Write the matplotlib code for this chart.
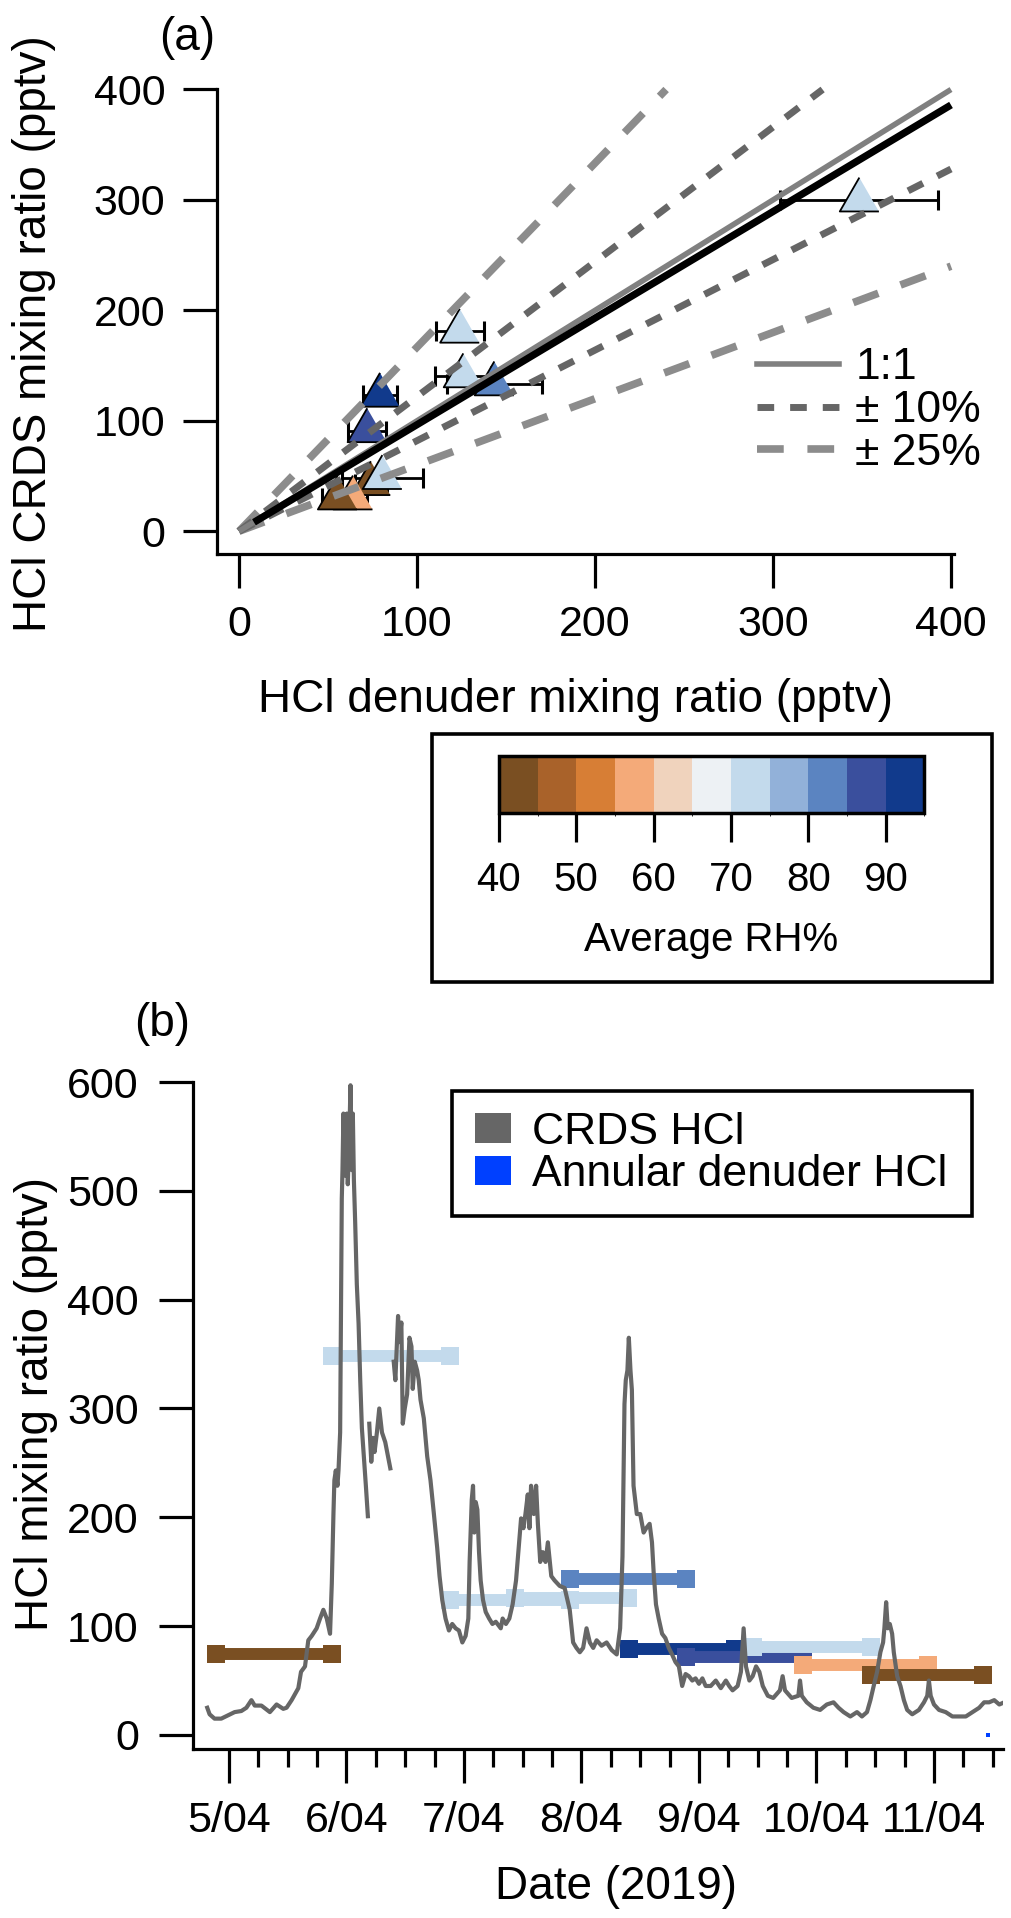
import numpy as np
import matplotlib
matplotlib.use('Agg')
import matplotlib.pyplot as plt
from matplotlib.colors import ListedColormap, BoundaryNorm
from matplotlib.patches import Patch, Rectangle
from matplotlib.lines import Line2D
from matplotlib.ticker import FixedLocator
import matplotlib.cm as cm

plt.rcParams['font.family'] = ['Liberation Sans', 'DejaVu Sans']

# ---- RH colour scale ----
rh_bounds = [40, 45, 50, 55, 60, 65, 70, 75, 80, 85, 90, 95]
rh_colors = ['#7a4f22', '#a9622a', '#d77e35', '#f4aa79', '#f0d3bd', '#edf1f4',
             '#c3daec', '#92b1d9', '#5b84c1', '#3a4f9d', '#113a8c']
rh_ticks = [40, 50, 60, 70, 80, 90]

# ---- denuder samples (day of April 2019) ----
samp_start = [4.889, 5.877, 6.877, 7.430, 7.903, 8.403, 8.886, 9.457, 9.886, 10.460]
samp_end   = [5.880, 6.877, 7.903, 8.400, 8.889, 9.310, 9.886, 10.460, 10.950, 11.420]
denuder    = [74.0, 348.5, 124.0, 126.0, 143.4, 79.2, 72.0, 80.5, 64.0, 55.3]
denuder_err = [9.0, 44.4, 13.4, 15.7, 26.6, 9.5, 10.6, 22.7, 8.0, 8.5]
crds_mean  = [43.0, 299.8, 181.0, 140.6, 133.3, 123.0, 90.9, 48.5, 30.0, 30.0]
avg_rh     = [42, 72, 72, 73, 83, 93, 88, 73, 57, 43]

# ---- reference lines in panel (a) ----
one_to_one = [0, 400]
ten_pct_slopes = [1.22, 0.82]
quarter_slopes = [1.667, 0.60]
fit_x = [8.4, 400]
fit_slope, fit_icpt = 0.965, 0.0

# ---- CRDS HCl time series ----
crds_day = [4.815, 4.835, 4.877, 4.934, 4.991, 5.048, 5.105, 5.148, 5.191, 5.219, 5.276, 5.348,
            5.405, 5.462, 5.490, 5.533, 5.590, 5.613, 5.647, 5.675, 5.704, 5.746, 5.775, 5.803,
            5.832, 5.860, 5.875, 5.889, 5.897, 5.909, 5.923, 5.932, 5.946, 5.954, 5.960, 5.966,
            5.974, 5.989, 6.003, 6.011, 6.023, 6.034, 6.046, 6.054, 6.063, 6.074, 6.088, 6.103,
            6.117, 6.131, 6.151, 6.165, 6.182, 6.188,
            6.194, 6.211, 6.225, 6.239, 6.259, 6.279, 6.302, 6.330, 6.353, 6.373, 6.388,
            6.402, 6.416, 6.439, 6.450, 6.467, 6.479, 6.496, 6.516, 6.536, 6.553, 6.564, 6.581,
            6.601, 6.615, 6.630, 6.658, 6.687, 6.715, 6.744, 6.772, 6.792, 6.815, 6.843, 6.872,
            6.900, 6.929, 6.957, 6.986, 7.014, 7.037, 7.048, 7.066, 7.077, 7.088, 7.100, 7.114,
            7.128, 7.142, 7.162, 7.185, 7.214, 7.242, 7.271, 7.313,
            7.329, 7.357, 7.386, 7.414, 7.443, 7.466, 7.486, 7.506, 7.523, 7.543, 7.557, 7.571,
            7.594, 7.614, 7.629, 7.649, 7.671, 7.694, 7.714, 7.743, 7.771, 7.814, 7.857, 7.900,
            7.929, 7.957, 7.986, 8.014, 8.043, 8.071, 8.100, 8.129, 8.171, 8.214, 8.257, 8.300,
            8.329, 8.349, 8.357, 8.366, 8.377, 8.391, 8.403, 8.417, 8.429, 8.443, 8.471, 8.500,
            8.529, 8.551, 8.580, 8.600, 8.614, 8.634, 8.657, 8.686, 8.714, 8.743, 8.771, 8.800,
            8.829, 8.857, 8.886, 8.914, 8.943, 8.971, 9.000, 9.029, 9.057, 9.100, 9.143, 9.186,
            9.229, 9.257, 9.286, 9.329, 9.357, 9.380, 9.400, 9.429, 9.457, 9.486, 9.514, 9.543,
            9.586,
            9.632, 9.689, 9.712, 9.732, 9.789, 9.846, 9.860, 9.875, 9.917, 9.974, 10.031, 10.088,
            10.145, 10.188, 10.231, 10.288, 10.345, 10.387, 10.430, 10.459, 10.487, 10.516, 10.544,
            10.567, 10.578, 10.593, 10.607, 10.624, 10.644, 10.658, 10.687, 10.715, 10.744, 10.772,
            10.815, 10.872, 10.915, 10.943, 10.957, 10.972, 11.000, 11.043, 11.100, 11.157, 11.214,
            11.271, 11.328, 11.385, 11.427, 11.470, 11.513, 11.556, 11.598]
crds_val = [25, 19, 15, 15, 18, 21, 22, 25, 32, 27, 27, 21,
            28, 24, 25, 32, 43, 58, 63, 87, 91, 98, 107, 115,
            107, 93, 139, 203, 234, 243, 229, 243, 278, 405, 493, 519,
            571, 514, 571, 506, 545, 597, 519, 571, 510, 471, 414, 378,
            326, 282, 251, 229, 201, np.nan,
            286, 251, 273, 260, 278, 300, 278, 269, 256, 245, np.nan,
            343, 326, 385, 361, 379, 286, 300, 313, 365, 357, 318, 343,
            335, 326, 308, 291, 256, 234, 203, 172, 146, 124, 107, 96,
            102, 98, 96, 85, 91, 107, 159, 216, 229, 186, 214, 207,
            168, 142, 124, 113, 107, 102, 104, 98,
            107, 102, 107, 120, 142, 172, 199, 190, 203, 221, 190, 229,
            203, 229, 194, 159, 168, 159, 177, 146, 142, 137, 135, 115,
            85, 80, 76, 80, 98, 85, 80, 87, 82, 85, 78, 74,
            98, 164, 229, 304, 326, 335, 365, 335, 317, 229, 203, 203,
            186, 190, 194, 177, 150, 120, 107, 93, 89, 80, 74, 67,
            63, 45, 56, 54, 50, 52, 47, 52, 45, 45, 50, 43,
            50, 45, 41, 45, 58, 98, 63, 50, 54, 63, 58, 45,
            36,
            34, 41, 54, 41, 34, 36, 50, 36, 30, 25, 23, 28,
            30, 25, 21, 17, 21, 17, 21, 32, 45, 58, 76,
            85, 98, 122, 98, 102, 93, 76, 54, 45, 32, 23,
            19, 23, 30, 36, 50, 36, 28, 23, 21, 17, 17,
            17, 21, 25, 30, 30, 32, 28, 30]
blue_dot_day = [11.456]
blue_dot_val = [0]

day_ticks = [5, 6, 7, 8, 9, 10, 11]
day_labels = ['5/04', '6/04', '7/04', '8/04', '9/04', '10/04', '11/04']
ax_ticks = [0, 100, 200, 300, 400]
b_yticks = [0, 100, 200, 300, 400, 500, 600]

W, H = 1012, 1918
def box(l, t, r, b):
    return [l / W, 1 - b / H, (r - l) / W, (b - t) / H]
def pt(x, y):
    return (x / W, 1 - y / H)

cmap = ListedColormap(rh_colors)
norm = BoundaryNorm(rh_bounds, cmap.N)

fig = plt.figure(figsize=(W / 100, H / 100), dpi=100)

# ================= panel (a) =================
ax = fig.add_axes(box(217.3, 89.5, 953.5, 554))
ax.set_xlim(-12.2, 401.4)
ax.set_ylim(-20.6, 400)
for s in ['top', 'right']:
    ax.spines[s].set_visible(False)
for s in ['left', 'bottom']:
    ax.spines[s].set_linewidth(2.3)
ax.set_xticks(ax_ticks)
ax.set_yticks(ax_ticks)
ax.tick_params(direction='out', length=24.5, width=2.3, labelsize=31)
ax.tick_params(axis='x', pad=12)
ax.tick_params(axis='y', pad=13)

ax.errorbar(denuder, crds_mean, xerr=denuder_err, fmt='none', ecolor='k',
            elinewidth=2.0, capsize=7.5, capthick=2.2, zorder=2)
tri = [(0, 0.577), (-0.5, -0.289), (0.5, -0.289)]
ax.scatter(denuder, crds_mean, c=avg_rh, cmap=cmap, norm=norm, marker=tri,
           s=32.5 ** 2, edgecolors='k', linewidths=1.3, zorder=3)

for sl in quarter_slopes:
    xe = min(400, 400 / sl)
    ax.plot([0, xe], [0, sl * xe], color='#8c8c8c', lw=5.5, dashes=(3.5, 3.1),
            dash_capstyle='butt', zorder=4, clip_on=False)
for sl in ten_pct_slopes:
    xe = min(400, 400 / sl)
    ax.plot([0, xe], [0, sl * xe], color='#666666', lw=5.0, dashes=(2.4, 2.3),
            dash_capstyle='butt', zorder=4, clip_on=False)
ax.plot(one_to_one, one_to_one, color='#808080', lw=4.0, solid_capstyle='butt',
        zorder=5, clip_on=False)
fx = np.array(fit_x)
ax.plot(fx, fit_slope * fx + fit_icpt, color='k', lw=5.2, solid_capstyle='butt',
        zorder=6, clip_on=False)

h_a = [Line2D([], [], color='#808080', lw=4.0),
       Line2D([], [], color='#666666', lw=5.0, dashes=(2.4, 2.3)),
       Line2D([], [], color='#8c8c8c', lw=5.5, dashes=(3.5, 3.1))]
ax.legend(h_a, ['1:1', '\u00b1 10%', '\u00b1 25%'], loc='center left',
          bbox_to_anchor=pt(757, 410.7), bbox_transform=fig.transFigure,
          frameon=False, fontsize=32, borderpad=0, borderaxespad=0,
          handlelength=1.85, handletextpad=0.36, labelspacing=0.04)

fig.text(*pt(576, 700), 'HCl denuder mixing ratio (pptv)', fontsize=33,
         ha='center', va='center')
fig.text(*pt(34, 334), 'HCl CRDS mixing ratio (pptv)', fontsize=33,
         ha='center', va='center', rotation=90)
fig.text(*pt(187, 38), '(a)', fontsize=33, ha='center', va='center')

# ================= colour bar =================
cax = fig.add_axes(box(498.8, 755.7, 924.5, 813.3))
sm = cm.ScalarMappable(norm=norm, cmap=cmap)
cb = fig.colorbar(sm, cax=cax, orientation='horizontal', ticks=rh_ticks)
cb.outline.set_linewidth(2.5)
cax.tick_params(length=21, width=2.3, labelsize=29, pad=13)
fig.text(*pt(711, 940), 'Average RH%', fontsize=29, ha='center', va='center')
fig.patches.append(Rectangle(pt(431.6, 982), (991.7 - 431.6) / W, (982 - 734) / H,
                             transform=fig.transFigure, fill=False, lw=2.6,
                             edgecolor='k'))

# ================= panel (b) =================
axb = fig.add_axes(box(192.8, 1082, 1002.7, 1749))
axb.set_xlim(4.692, 11.585)
axb.set_ylim(-12.9, 600)
for s in ['top', 'right']:
    axb.spines[s].set_visible(False)
for s in ['left', 'bottom']:
    axb.spines[s].set_linewidth(2.3)

for s0, s1, v, r in zip(samp_start, samp_end, denuder, avg_rh):
    axb.plot([s0, s1], [v, v], color=cmap(norm(r)), lw=8.6, solid_capstyle='butt',
             marker='s', ms=12.6, mew=0, zorder=2)
axb.plot(crds_day, crds_val, color='#666666', lw=3.0, zorder=3)
axb.plot(blue_dot_day, blue_dot_val, 's', color='#0040ff', ms=2.5, mew=0,
         zorder=3, clip_on=False)

axb.set_xticks(day_ticks)
axb.set_xticklabels(day_labels)
axb.xaxis.set_minor_locator(FixedLocator(np.arange(5, 11.51, 0.25)))
axb.set_yticks(b_yticks)
axb.tick_params(which='major', direction='out', length=24.5, width=2.3, labelsize=31)
axb.tick_params(which='minor', direction='out', length=13, width=2.3)
axb.tick_params(axis='x', pad=13)
axb.tick_params(axis='y', pad=14.4)

h_b = [Patch(facecolor='#666666', edgecolor='none'),
       Patch(facecolor='#0040ff', edgecolor='none')]
axb.legend(h_b, ['CRDS HCl', 'Annular denuder HCl'], loc='center left',
           bbox_to_anchor=pt(475, 1153.5), bbox_transform=fig.transFigure,
           frameon=False, fontsize=32, borderpad=0, borderaxespad=0,
           handlelength=0.81, handleheight=0.65, handletextpad=0.47,
           labelspacing=0.03)
fig.patches.append(Rectangle(pt(452, 1216), (972 - 452) / W, (1216 - 1091) / H,
                             transform=fig.transFigure, fill=False, lw=2.6,
                             edgecolor='k'))

fig.text(*pt(616, 1887), 'Date (2019)', fontsize=33, ha='center', va='center')
fig.text(*pt(36, 1404), 'HCl mixing ratio (pptv)', fontsize=33,
         ha='center', va='center', rotation=90)
fig.text(*pt(162, 1024), '(b)', fontsize=33, ha='center', va='center')

fig.savefig('out.png', dpi=100)
plt.close(fig)
